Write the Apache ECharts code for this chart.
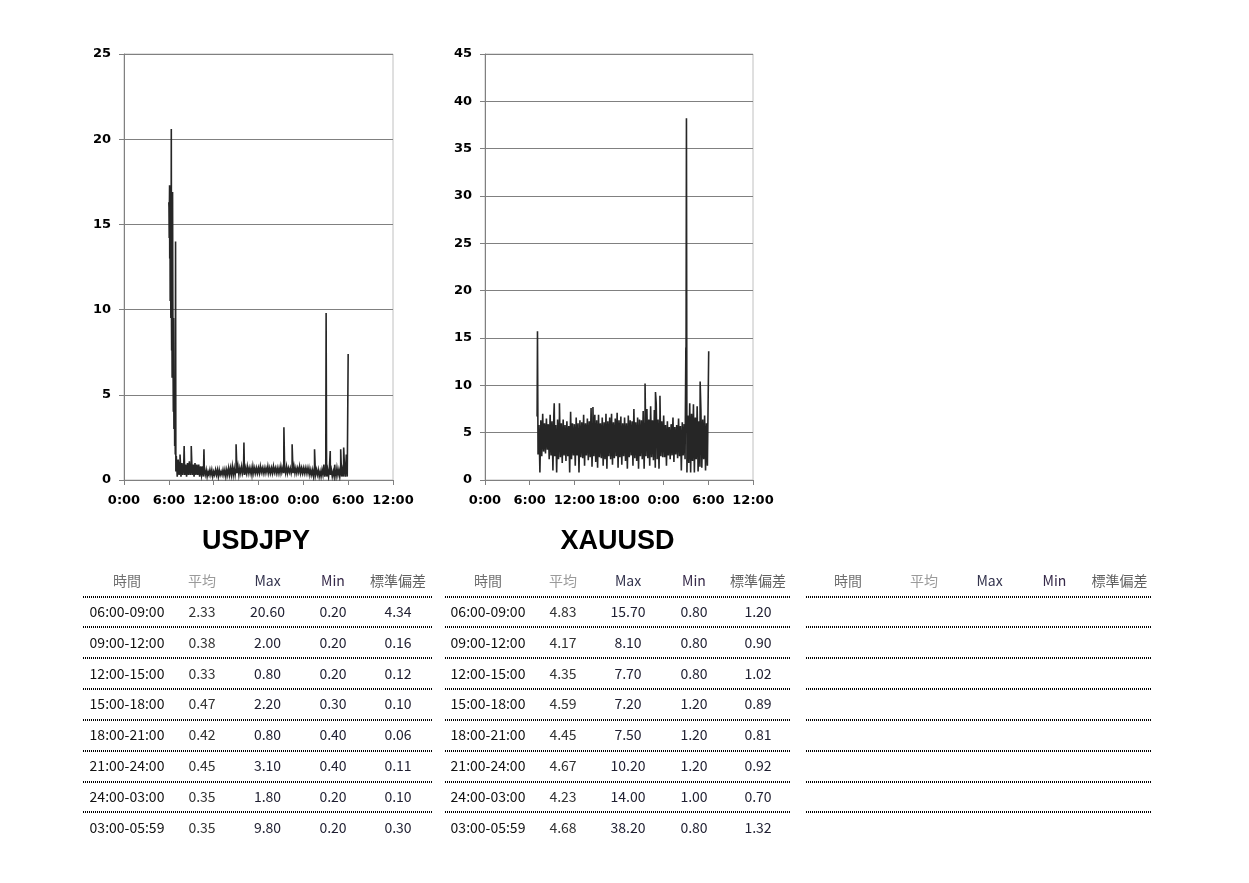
<!DOCTYPE html>
<html><head><meta charset="utf-8">
<script src="https://cdn.jsdelivr.net/npm/echarts@6/dist/echarts.min.js"></script>
<style>html,body{margin:0;padding:0;background:#fff}#c{width:1249px;height:883px}</style>
</head><body><div id="c"></div>
<script>
// ---------- axis ticks ----------
const usdjpyYMax = 25, xauYMax = 45;

// ---------- USDJPY: 15-minute buckets from 6:00 (high / low) ----------
const usdjpyStart = 6;
const usdjpyHigh = [
  16.3, 11.5, 11.7, 5.0,
  1.4,1.2,1.1,1.0,1.0,0.9,1.0,1.1,1.0,0.9,1.0,0.9,0.9,0.8,0.8,
  0.6,0.6,0.5,0.6,0.6,0.5,0.6,0.6,0.6,0.5,0.6,0.6,0.6,0.7,
  0.7,0.8,0.7,0.7,0.8,0.7,0.8,0.7,0.7,0.8,
  0.7,0.7,0.8,0.7,0.7,0.7,0.8,0.7,0.7,0.7,
  0.8,0.7,0.7,0.8,0.7,0.7,0.7,0.8,0.7,0.7,
  0.8,0.7,0.7,0.7,0.8,0.7,0.7,0.8,0.7,0.7,
  0.7,0.7,
  0.7,0.6,0.6,0.7,0.6,
  0.6,0.5,0.6,0.9,0.7,0.6,0.8,0.6,0.5,0.6,0.7,0.6,0.8,0.6,0.9,1.5
];
const usdjpyLow = [
  14.1, 7.6, 5.9, 1.6,
  0.2,0.3,0.2,0.3,0.3,0.2,0.3,0.3,0.3,0.2,0.3,0.3,0.2,0.3,0.2,
  0.3,0.2,0.3,0.3,0.2,0.3,0.3,0.2,0.3,0.3,0.3,0.2,0.3,0.3,
  0.3,0.3,0.3,
  0.4,0.3,0.4,0.4,0.3,0.4,0.4,0.4,0.3,0.4,0.4,0.4,
  0.4,0.45,0.4,0.4,0.45,0.4,0.4,0.4,0.45,0.4,0.4,0.4,0.45,0.4,0.4,0.4,0.45,0.4,0.4,0.4,0.4,0.45,0.4,0.4,0.4,0.4,0.4,
  0.3,0.3,0.2,0.3,0.3,
  0.2,0.2,0.3,0.2,0.2,0.2,0.3,0.2,0.2,0.2,0.3,0.2,0.2,0.2,0.2,0.2
];
const usdjpySpikes = [
  [6.02,16.0],[6.05,14.2],[6.08,16.2],[6.1,17.3],[6.12,13.0],[6.15,16.5],[6.18,10.5],[6.22,15.0],
  [6.27,9.5],[6.3,12.0],[6.33,20.6],[6.36,9.0],[6.4,11.5],[6.44,6.0],[6.47,11.0],[6.5,16.9],
  [6.55,8.0],[6.6,4.0],[6.63,9.5],[6.68,3.0],[6.72,5.2],[6.78,2.0],[6.82,4.5],[6.86,1.5],[6.9,14.0],[6.94,0.5],
  [7.5,1.5],[8.05,2.0],[9.0,2.0],[10.7,1.8],
  [15.0,2.1],[16.05,2.2],[21.4,3.1],[22.5,2.1],[25.5,1.8],[27.05,9.8],[27.1,2.0],[27.6,1.7],
  [28.2,0.9],[29.0,1.8],[29.4,1.9],[29.9,1.5],[30.0,7.4]
];

// ---------- XAUUSD: 15-minute buckets from 7:00 ----------
const xauStart = 7;
const xauHigh = [
  6.7,5.8,6.3,7.0, 6.0,6.5,5.9,6.9, 6.2,7.0,5.8,6.4, 6.8,6.0,6.4,5.8,
  6.2,5.7,7.2,6.0, 5.9,6.6,6.0,6.3, 6.1,6.9,6.0,6.5, 6.2,7.6,6.1,6.9,
  6.3,6.9,6.0,6.6, 6.1,7.0,6.2,6.6, 7.0,6.1,6.5,7.1, 6.3,6.7,6.0,6.6,
  6.0,6.8,6.3,6.2, 7.5,6.1,6.6,6.4, 6.3,7.3,6.2,7.5, 6.4,7.8,6.3,7.4,
  8.1,6.4,7.0,6.2, 6.8,5.8,6.2,5.6, 5.9,6.6,5.6,5.8, 6.5,5.7,6.1,5.9,
  9.5,6.8,8.1,7.0, 8.0,6.6,7.8,6.2, 7.5,6.4,6.8,6.0
];
const xauLow = [
  2.7,0.8,2.5,3.0, 2.8,3.2,2.2,2.6, 1.0,2.5,0.8,2.2, 2.4,1.8,2.6,2.0,
  2.5,0.8,2.2,2.6, 1.5,2.6,0.8,2.4, 2.3,1.5,2.6,2.1, 2.4,1.4,2.5,1.9,
  1.3,2.4,2.3,1.5, 2.2,1.2,2.5,2.2, 1.6,2.3,2.5,1.3, 2.4,1.6,2.5,2.0,
  1.2,2.4,2.6,1.5, 2.3,2.0,1.2,2.5, 2.2,1.2,2.5,2.3, 1.5,2.4,2.1,1.3,
  2.2,1.2,2.5,2.4, 2.4,1.5,2.6,2.2, 2.6,1.9,2.7,2.3, 2.5,1.0,2.6,2.2,
  0.8,1.8,0.8,2.0, 0.8,2.2,0.9,1.4, 1.3,2.2,1.0,1.5
];
const xauSpikes = [
  [7.05,15.7],[9.3,8.1],[10.0,8.1],[14.5,7.7],[21.5,10.2],[22.9,9.3],[23.5,8.9],
  [26.98,14.0],[27.06,38.2],[28.9,10.4],[30.05,13.6]
];

// ---------- tables ----------
const tableHeaders = ['時間','平均','Max','Min','標準偏差'];
const periods = ['06:00-09:00','09:00-12:00','12:00-15:00','15:00-18:00','18:00-21:00','21:00-24:00','24:00-03:00','03:00-05:59'];
const usdjpyMean = [2.33,0.38,0.33,0.47,0.42,0.45,0.35,0.35];
const usdjpyMax  = [20.60,2.00,0.80,2.20,0.80,3.10,1.80,9.80];
const usdjpyMin  = [0.20,0.20,0.20,0.30,0.40,0.40,0.20,0.20];
const usdjpyStd  = [4.34,0.16,0.12,0.10,0.06,0.11,0.10,0.30];
const xauMean = [4.83,4.17,4.35,4.59,4.45,4.67,4.23,4.68];
const xauMax  = [15.70,8.10,7.70,7.20,7.50,10.20,14.00,38.20];
const xauMin  = [0.80,0.80,0.80,1.20,1.20,1.20,1.00,0.80];
const xauStd  = [1.20,0.90,1.02,0.89,0.81,0.92,0.70,1.32];

function buildSeries(start, highs, lows, spikes) {
  const pts = [];
  for (let i = 0; i < highs.length; i++) {
    const t = start + i * 0.25;
    pts.push([t, highs[i]]);
    pts.push([t + 0.125, lows[i]]);
  }
  spikes.forEach(s => pts.push(s));
  pts.sort((a, b) => a[0] - b[0]);
  return pts;
}

const axisFont = { fontFamily: 'DejaVu Sans', fontWeight: 'bold', fontSize: 13, color: '#000' };
function xAx(gi) {
  return {
    type: 'value', gridIndex: gi, min: 0, max: 36, interval: 6,
    axisLine: { show: true, lineStyle: { color: '#808080', width: 1 } },
    axisTick: { show: true, length: 5, lineStyle: { color: '#808080' } },
    axisLabel: Object.assign({ margin: 14, formatter: v => (v % 24) + ':00' }, axisFont),
    splitLine: { show: false }
  };
}
function yAx(gi, max) {
  return {
    type: 'value', gridIndex: gi, min: 0, max: max, interval: 5,
    axisLine: { show: true, lineStyle: { color: '#808080', width: 1 } },
    axisTick: { show: true, length: 5, lineStyle: { color: '#808080' } },
    axisLabel: Object.assign({ margin: 13 }, axisFont),
    splitLine: { show: true, lineStyle: { color: '#808080', width: 1 } }
  };
}

// titles + table graphics
const graphics = [
  { type: 'text', x: 256, y: 542, style: { text: 'USDJPY', fill: '#000', font: 'bold 27px "Liberation Sans"', textAlign: 'center', textVerticalAlign: 'middle' } },
  { type: 'text', x: 617.5, y: 542, style: { text: 'XAUUSD', fill: '#000', font: 'bold 27px "Liberation Sans"', textAlign: 'center', textVerticalAlign: 'middle' } }
];
const dotLineY0 = 596.5, rowStep = 30.85, headerY = 580.5, rowY0 = 611.5;
const tables = [
  { x1: 83, x2: 432, cols: [127, 202, 267.5, 333, 398], data: [periods, usdjpyMean, usdjpyMax, usdjpyMin, usdjpyStd] },
  { x1: 445, x2: 790, cols: [488, 563, 628, 694, 758], data: [periods, xauMean, xauMax, xauMin, xauStd] },
  { x1: 806, x2: 1152, cols: [848, 924, 989.5, 1054.5, 1119.5], data: null }
];
const headerColors = ['#707070', '#9a9a9a', '#33334d', '#352848', '#606060'];
const cellColors = ['#111', '#333', '#1e1e30', '#1e1e30', '#1e1e30'];
tables.forEach(tb => {
  tableHeaders.forEach((h, c) => {
    graphics.push({ type: 'text', x: tb.cols[c], y: headerY, style: {
      text: h, fill: headerColors[c], font: '14px "Noto Sans CJK JP"', textAlign: 'center', textVerticalAlign: 'middle' } });
  });
  for (let k = 0; k < 8; k++) {
    const y = Math.round(dotLineY0 + k * rowStep);
    graphics.push({ type: 'line', shape: { x1: tb.x1, y1: y, x2: tb.x2, y2: y },
      style: { stroke: '#000', lineWidth: 2, lineDash: [1, 1] } });
  }
  if (tb.data) {
    for (let r = 0; r < periods.length; r++) {
      tb.data.forEach((col, c) => {
        const v = c === 0 ? col[r] : col[r].toFixed(2);
        graphics.push({ type: 'text', x: tb.cols[c], y: rowY0 + r * rowStep, style: {
          text: v, fill: cellColors[c], font: '14px "Noto Sans CJK JP"', textAlign: 'center', textVerticalAlign: 'middle' } });
      });
    }
  }
});

const chart = echarts.init(document.getElementById('c'), null, { renderer: 'canvas' });
chart.setOption({
  animation: false,
  backgroundColor: '#fff',
  grid: [
    { left: 124, top: 54, width: 269, height: 426, show: true, borderColor: '#c0c0c0', borderWidth: 1, backgroundColor: 'transparent' },
    { left: 485, top: 54, width: 268, height: 426, show: true, borderColor: '#c0c0c0', borderWidth: 1, backgroundColor: 'transparent' }
  ],
  xAxis: [xAx(0), xAx(1)],
  yAxis: [yAx(0, usdjpyYMax), yAx(1, xauYMax)],
  series: [
    { name: 'USDJPY', type: 'line', xAxisIndex: 0, yAxisIndex: 0, showSymbol: false, symbol: 'none',
      lineStyle: { color: '#262626', width: 1.6, join: 'miter' }, data: buildSeries(usdjpyStart, usdjpyHigh, usdjpyLow, usdjpySpikes) },
    { name: 'XAUUSD', type: 'line', xAxisIndex: 1, yAxisIndex: 1, showSymbol: false, symbol: 'none',
      lineStyle: { color: '#262626', width: 1.6, join: 'miter' }, data: buildSeries(xauStart, xauHigh, xauLow, xauSpikes) }
  ],
  graphic: graphics
});
</script></body></html>
